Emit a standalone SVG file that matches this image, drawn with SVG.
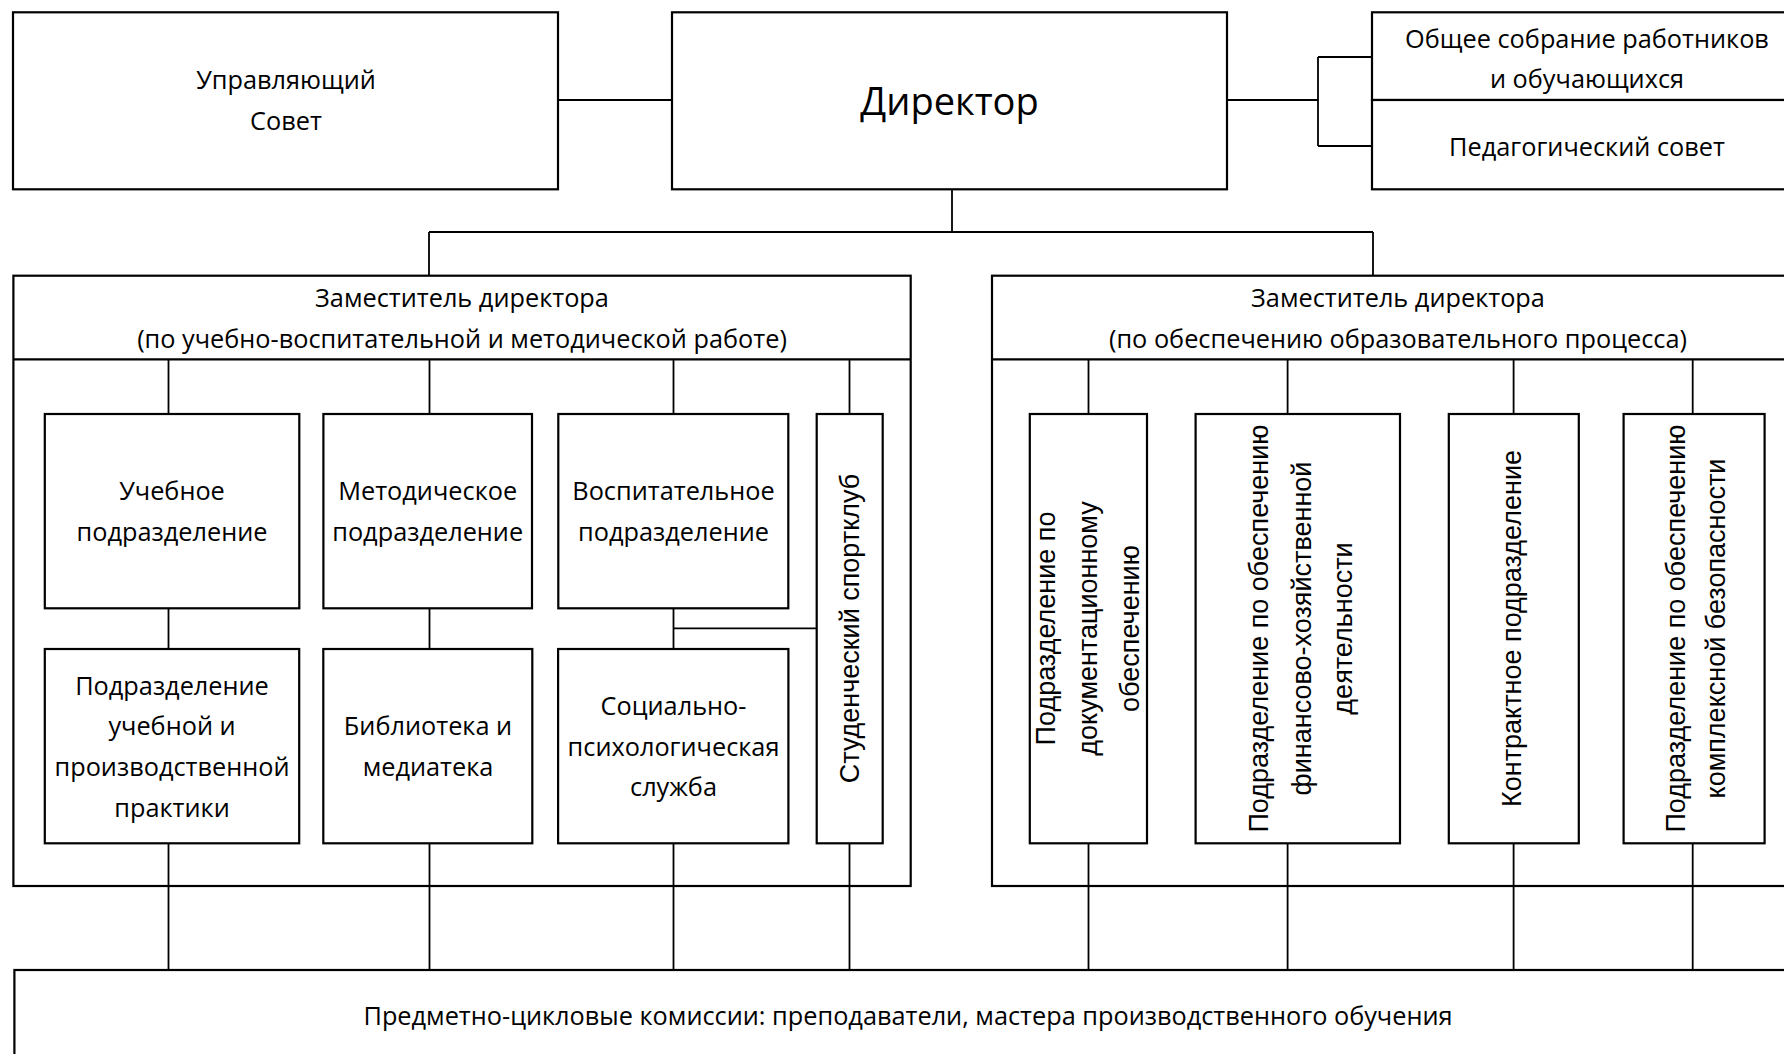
<svg xmlns="http://www.w3.org/2000/svg" width="1784" height="1054" viewBox="0 0 1784 1054">
<style>
.box{fill:#fff;stroke:#000;stroke-width:2.2}
.ln{fill:none;stroke:#000;stroke-width:1.8}
.t{font-family:"Open Sans","Noto Sans","DejaVu Sans",sans-serif;font-size:25.3px;fill:#000;text-anchor:middle}
.big{font-size:38px}
.v{font-family:"Liberation Sans",Arial,sans-serif;font-size:27px;fill:#000;text-anchor:middle}
</style>
<rect width="1784" height="1054" fill="#fff"/>
<g id="upravlyayushchiy-sovet">
<rect class="box" x="13" y="12.3" width="545" height="177"/>
<text class="t" x="286" y="89">Управляющий</text>
<text class="t" x="286" y="130">Совет</text>
</g>
<g id="direktor">
<rect class="box" x="672" y="12.3" width="555" height="177"/>
<text class="t big" x="949.5" y="115">Директор</text>
</g>
<g id="obshchee-sobranie">
<rect class="box" x="1372" y="12.3" width="440" height="87.7"/>
<text class="t" x="1587" y="47.5">Общее собрание работников</text>
<text class="t" x="1587" y="88">и обучающихся</text>
</g>
<g id="pedsovet">
<rect class="box" x="1372" y="100" width="440" height="89.3"/>
<text class="t" x="1587" y="156">Педагогический совет</text>
</g>
<g id="zam-uvr">
<rect class="box" x="13.4" y="275.7" width="897.3" height="610.3"/>
<path class="box" d="M13.4,359.3H910.7"/>
<text class="t" x="462" y="307">Заместитель директора</text>
<text class="t" x="462" y="348">(по учебно-воспитательной и методической работе)</text>
</g>
<g id="zam-oop">
<rect class="box" x="992" y="275.7" width="820" height="610.3"/>
<path class="box" d="M992,359.3H1812"/>
<text class="t" x="1398" y="307">Заместитель директора</text>
<text class="t" x="1398" y="348">(по обеспечению образовательного процесса)</text>
</g>
<g id="uchebnoe">
<rect class="box" x="44.8" y="414" width="254.5" height="194.3"/>
<text class="t" x="172" y="500">Учебное</text>
<text class="t" x="172" y="541">подразделение</text>
</g>
<g id="metodicheskoe">
<rect class="box" x="323.4" y="414" width="208.6" height="194.3"/>
<text class="t" x="427.7" y="500">Методическое</text>
<text class="t" x="427.7" y="541">подразделение</text>
</g>
<g id="vospitatelnoe">
<rect class="box" x="558.3" y="414" width="230" height="194.3"/>
<text class="t" x="673.5" y="500">Воспитательное</text>
<text class="t" x="673.5" y="541">подразделение</text>
</g>
<g id="sportklub">
<rect class="box" x="816.7" y="414" width="66" height="429.3"/>
<text class="v" transform="translate(859,628.5) rotate(-90)">Студенческий спортклуб</text>
</g>
<g id="praktika">
<rect class="box" x="44.8" y="649" width="254.4" height="194.3"/>
<text class="t" x="172" y="695">Подразделение</text>
<text class="t" x="172" y="735">учебной и</text>
<text class="t" x="172" y="776">производственной</text>
<text class="t" x="172" y="817">практики</text>
</g>
<g id="biblioteka">
<rect class="box" x="323.3" y="649" width="209" height="194.3"/>
<text class="t" x="428" y="735">Библиотека и</text>
<text class="t" x="428" y="776">медиатека</text>
</g>
<g id="sps">
<rect class="box" x="558.1" y="649" width="230.3" height="194.3"/>
<text class="t" x="673.5" y="715">Социально-</text>
<text class="t" x="673.5" y="755.5">психологическая</text>
<text class="t" x="673.5" y="796">служба</text>
</g>
<g id="doc">
<rect class="box" x="1029.8" y="414" width="117.2" height="429.3"/>
<text class="v" transform="translate(1055,628.5) rotate(-90)">Подразделение по</text>
<text class="v" transform="translate(1097,628.5) rotate(-90)">документационному</text>
<text class="v" transform="translate(1138.5,628.5) rotate(-90)">обеспечению</text>
</g>
<g id="fin">
<rect class="box" x="1195.6" y="414" width="204.4" height="429.3"/>
<text class="v" transform="translate(1268,628.5) rotate(-90)">Подразделение по обеспечению</text>
<text class="v" transform="translate(1311,628.5) rotate(-90)">финансово-хозяйственной</text>
<text class="v" transform="translate(1352,628.5) rotate(-90)">деятельности</text>
</g>
<g id="kontrakt">
<rect class="box" x="1448.8" y="414" width="130" height="429.3"/>
<text class="v" transform="translate(1521,628.5) rotate(-90)">Контрактное подразделение</text>
</g>
<g id="bezopasnost">
<rect class="box" x="1623.6" y="414" width="141" height="429.3"/>
<text class="v" transform="translate(1685,628.5) rotate(-90)">Подразделение по обеспечению</text>
<text class="v" transform="translate(1725,628.5) rotate(-90)">комплексной безопасности</text>
</g>
<g id="pck">
<rect class="box" x="14.4" y="970" width="1800" height="120"/>
<text class="t" x="908" y="1025">Предметно-цикловые комиссии: преподаватели, мастера производственного обучения</text>
</g>
<g id="connectors">
<path class="ln" d="M558,100H672"/>
<path class="ln" d="M1227,100H1318M1318,57V146M1318,57H1372M1318,146H1372"/>
<path class="ln" d="M952,189.3V232M429,232H1373M429,232V275.7M1373,232V275.7"/>
<path class="ln" d="M168.5,359.3V414M429.5,359.3V414M673.5,359.3V414M849.5,359.3V414"/>
<path class="ln" d="M168.5,608.3V649M429.5,608.3V649M673.5,608.3V649M673.5,628.3H816.7"/>
<path class="ln" d="M168.5,843.3V970M429.5,843.3V970M673.5,843.3V970M849.5,843.3V970"/>
<path class="ln" d="M1088.5,359.3V414M1287.6,359.3V414M1513.6,359.3V414M1692.7,359.3V414"/>
<path class="ln" d="M1088.5,843.3V970M1287.6,843.3V970M1513.6,843.3V970M1692.7,843.3V970"/>
</g>
</svg>
